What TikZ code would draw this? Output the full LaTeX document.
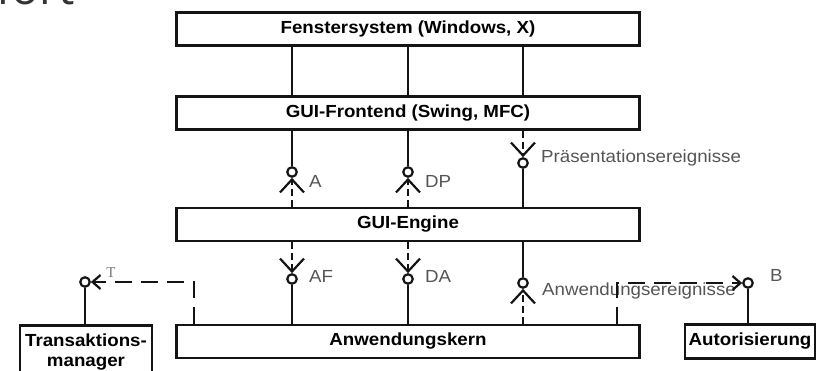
\documentclass[tikz,border=0pt]{standalone}
\usepackage{fontspec}
\setmainfont{Liberation Sans}[FakeStretch=1.07]
\newfontfamily\titlefont{Open Sans}
\newfontfamily\tfont{Liberation Serif}
\usetikzlibrary{positioning,arrows.meta,shadows}
\definecolor{linec}{RGB}{20,20,20}
\definecolor{lblc}{RGB}{85,85,85}
\definecolor{titlec}{RGB}{51,51,51}
\tikzset{
  layer/.style = {draw=linec, line width=2.6pt, fill=white, minimum width=463pt, minimum height=33pt,
                  inner sep=0pt, font=\fontsize{17.5}{19}\selectfont\bfseries,
                  drop shadow={shadow xshift=1.3pt, shadow yshift=-1.3pt, opacity=1, fill=linec}},
  ext/.style   = {draw=linec, line width=2.6pt, fill=white, inner sep=0pt, align=center,
                  font=\fontsize{17.5}{20}\selectfont\bfseries,
                  drop shadow={shadow xshift=1.3pt, shadow yshift=-1.3pt, opacity=1, fill=linec}},
  ifc/.style   = {circle, draw=linec, line width=2.2pt, fill=white, minimum size=9.5pt, inner sep=0pt},
  wire/.style  = {draw=linec, line width=2.2pt},
  uses/.style  = {wire, dash pattern=on 7pt off 4pt, -{Straight Barb[length=13pt, width=24pt]}},
  call/.style  = {wire, dash pattern=on 17pt off 9pt, -{Straight Barb[length=8pt, width=14pt]}},
  lbl/.style   = {text=lblc, font=\fontsize{17.5}{19}\selectfont, anchor=west, inner sep=0pt},
}

\begin{document}
\begin{tikzpicture}[x=1pt, y=-1pt]
\useasboundingbox (0,0) rectangle (825,371);

\node[anchor=base west, inner sep=0pt, text=titlec, font=\titlefont\fontsize{46}{50}\selectfont]
  (title) at (-4,5) {fort};

% layers
\node[layer] (fenster)  at (408,29)    {Fenstersystem (Windows, X)};
\node[layer] (frontend) at (408,113)   {GUI-Frontend (Swing, MFC)};
\node[layer] (engine)   at (408,224.5) {GUI-Engine};
\node[layer] (kern)     at (408,341.5) {Anwendungskern};

% side components
\node[ext, anchor=north, minimum width=132pt, minimum height=54pt] (trans) at (86,324)
  {Transaktions-\\manager};
\node[ext, minimum width=130pt, minimum height=34pt] (autor) at (750,341.5) {Autorisierung};

% interfaces
\node[ifc] (iA)  at (292,172) {};
\node[ifc] (iDP) at (408,172) {};
\node[ifc] (iPE) at (523,163) {};
\node[ifc] (iAF) at (292,279) {};
\node[ifc] (iDA) at (408,279) {};
\node[ifc] (iAE) at (523,283) {};
\node[ifc] (iT)  at (85,282)  {};
\node[ifc] (iB)  at (748,283) {};

\node[lbl] (lA)  at (309,181) {A};
\node[lbl] (lDP) at (425,181) {DP};
\node[lbl] (lPE) at (541,158) {Präsentationsereignisse};
\node[lbl] (lAF) at (309,276) {AF};
\node[lbl] (lDA) at (425,276) {DA};
\node[lbl] (lAE) at (542,291) {Anwendungsereignisse};
\node[text=lblc!80, font=\tfont\fontsize{15}{16}\selectfont, inner sep=0pt] (lT) at (111,273) {T};
\node[lbl] (lB)  at (770,275) {B};

% window system to frontend
\draw[wire] (fenster.south -| iA)  -- (frontend.north -| iA);
\draw[wire] (fenster.south -| iDP) -- (frontend.north -| iDP);
\draw[wire] (fenster.south -| iPE) -- (frontend.north -| iPE);

% frontend <-> engine
\draw[wire] (frontend.south -| iA)  -- (iA);
\draw[uses] (engine.north -| iA) -- (iA);
\draw[wire] (frontend.south -| iDP) -- (iDP);
\draw[uses] (engine.north -| iDP) -- (iDP);
\draw[uses] (frontend.south -| iPE) -- (iPE);
\draw[wire] (iPE) -- (engine.north -| iPE);

% engine <-> kern
\draw[uses] (engine.south -| iAF) -- (iAF);
\draw[wire] (iAF) -- (kern.north -| iAF);
\draw[uses] (engine.south -| iDA) -- (iDA);
\draw[wire] (iDA) -- (kern.north -| iDA);
\draw[wire] (engine.south -| iAE) -- (iAE);
\draw[uses] (kern.north -| iAE) -- (iAE);

% kern to transaction manager and authorisation
\draw[wire] (iT) -- (trans.north -| iT);
\draw[call] (kern.north west) ++(19,0) |- (iT);
\draw[wire] (iB) -- (autor.north -| iB);
\draw[call] (kern.north east) ++(-24,0) |- (iB);

\end{tikzpicture}
\end{document}
